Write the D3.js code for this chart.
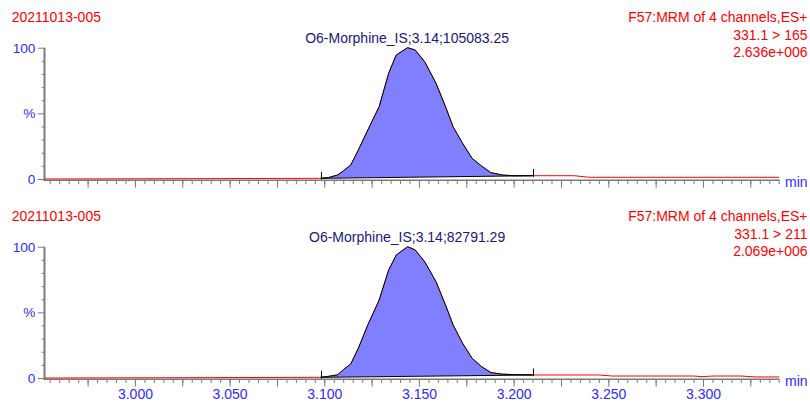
<!DOCTYPE html>
<html>
<head>
<meta charset="utf-8">
<script src="https://cdn.jsdelivr.net/npm/d3@7"></script>
<style>
  body { margin: 0; background: #fff; }
  text { font-family: "Liberation Sans", Arial, sans-serif; }
</style>
</head>
<body>
<svg id="chart" width="810" height="407"></svg>
<script>
// Retention-time window shown on the x axis (minutes)
const timeDomain = [2.9525, 3.3403];

// Integrated peak: sampled retention times (min) and relative intensity (%)
const peakTimes = [3.098, 3.102, 3.107, 3.110, 3.114, 3.118, 3.123, 3.129, 3.134, 3.138, 3.144,
                   3.148, 3.153, 3.159, 3.164, 3.168, 3.173, 3.178, 3.183, 3.188, 3.194, 3.200, 3.210];
const peak165 = [0.5, 1.0, 3.0, 6.1, 10.7, 22.1, 37.3, 55.1, 80.5, 94.4, 100,
                 98.2, 89.3, 72.9, 55.1, 39.8, 27.2, 15.8, 9.9, 4.8, 3.0, 2.5, 2.5];
const peak211 = [0.5, 1.2, 2.4, 6.2, 10.7, 22.7, 40.4, 59.4, 82.2, 93.6, 100,
                 97.5, 88.6, 73.3, 55.6, 40.4, 26.5, 15.1, 8.7, 4.1, 2.9, 2.6, 2.3];

// Trace before and after the integrated peak
const leadTimes = [2.9525, 3.0975];
const lead165 = [0, 0.5];
const lead211 = [0, 0.5];
const tailTimes165 = [3.232, 3.240, 3.3403];
const tail165 = [2.5, 1.3, 1.3];
const tailTimes211 = [3.245, 3.252, 3.295, 3.300, 3.305, 3.320, 3.328, 3.3403];
const tail211 = [2.3, 1.5, 1.5, 1.0, 1.5, 1.5, 0.8, 0.8];

// Header texts
const sampleName = "20211013-005";
const functionName = "F57:MRM of 4 channels,ES+";
const transitions = ["331.1 > 165", "331.1 > 211"];
const intensities = ["2.636e+006", "2.069e+006"];
const peakLabels = ["O6-Morphine_IS;3.14;105083.25", "O6-Morphine_IS;3.14;82791.29"];

// Axis ticks
const minorTimeTicks = d3.range(591, 669).map(i => i / 200);   // every 0.005 min
const majorTimeTicks = d3.range(119, 134).map(i => i / 40);    // every 0.025 min
const yTickValues = d3.range(0, 101, 10);
const yLabels = { 0: "0", 50: "%", 100: "100" };

const RED = "#ff0000";
const BLUE = "#2b2bff";
const NAVY = "#17177f";
const GREY = "#7a7a7a";
const FILL = "#8080ff";

const svg = d3.select("#chart");
const x = d3.scaleLinear().domain(timeDomain).range([45, 779.3]);

const panels = [
  { dy: 0, transition: transitions[0], intensity: intensities[0], label: peakLabels[0],
    times: leadTimes.concat(peakTimes, tailTimes165), values: lead165.concat(peak165, tail165),
    peak: peak165, timeLabels: false },
  { dy: 199, transition: transitions[1], intensity: intensities[1], label: peakLabels[1],
    times: leadTimes.concat(peakTimes, tailTimes211), values: lead211.concat(peak211, tail211),
    peak: peak211, timeLabels: true }
];

panels.forEach(p => {
  const g = svg.append("g").attr("transform", `translate(0,${p.dy})`);
  const y = d3.scaleLinear().domain([0, 100]).range([179, 47.7]);

  // Header
  g.append("text").attr("x", 11.7).attr("y", 21.7).attr("fill", RED)
    .attr("font-size", 14).text(sampleName);
  [functionName, p.transition, p.intensity].forEach((t, i) => {
    g.append("text").attr("x", 807.5).attr("y", 22.3 + i * 17.5)
      .attr("text-anchor", "end").attr("fill", RED).attr("font-size", 14).text(t);
  });

  // X axis: minor and major ticks
  const xMinor = d3.axisBottom(x).tickValues(minorTimeTicks).tickSizeInner(4)
    .tickSizeOuter(0).tickFormat("");
  const xMajor = d3.axisBottom(x).tickValues(majorTimeTicks).tickSizeInner(7.7)
    .tickSizeOuter(0).tickPadding(2.4)
    .tickFormat(d => (p.timeLabels && Math.round(d * 1000) % 50 === 0) ? d3.format(".3f")(d) : "");
  [xMinor, xMajor].forEach(ax => {
    const a = g.append("g").attr("transform", "translate(0,180)").call(ax);
    a.select(".domain").remove();
    a.selectAll("line").attr("stroke", GREY);
    a.selectAll("text").attr("fill", BLUE).attr("font-size", 14)
      .attr("font-family", "\"Liberation Sans\", Arial, sans-serif");
  });

  // Y axis
  const yAxis = d3.axisLeft(y).tickValues(yTickValues)
    .tickSizeOuter(0).tickPadding(2.4).tickFormat(d => yLabels[d] || "");
  const ya = g.append("g").attr("transform", "translate(44,0)").call(yAxis);
  ya.select(".domain").remove();
  ya.selectAll(".tick line").attr("stroke", GREY)
    .attr("x2", d => (d % 50 === 0) ? -6.3 : -2.3);
  ya.selectAll(".tick text").attr("fill", BLUE).attr("font-size", 13.6)
    .attr("x", -8.7).attr("font-family", "\"Liberation Sans\", Arial, sans-serif");

  // Axis lines
  g.append("line").attr("x1", x(timeDomain[0]) - 1.5).attr("x2", x(timeDomain[1]))
    .attr("y1", 180.25).attr("y2", 180.25).attr("stroke", GREY).attr("stroke-width", 1.5);
  g.append("line").attr("x1", 44.5).attr("x2", 44.5).attr("y1", y(100)).attr("y2", 181)
    .attr("stroke", GREY).attr("stroke-width", 2);

  g.append("text").attr("x", 785).attr("y", 186.7).attr("fill", BLUE)
    .attr("font-size", 14).text("min");

  // Full trace
  const pts = p.times.map((t, i) => [t, p.values[i]]);
  g.append("path").datum(pts)
    .attr("d", d3.line().x(d => x(d[0])).y(d => y(d[1])))
    .attr("fill", "none").attr("stroke", RED).attr("stroke-width", 1);

  // Integrated peak between the curve and its drawn baseline
  const t0 = peakTimes[0], t1 = peakTimes[peakTimes.length - 1];
  const v0 = p.peak[0], v1 = p.peak[p.peak.length - 1];
  const base = t => v0 + (t - t0) / (t1 - t0) * (v1 - v0);
  const peakPts = peakTimes.map((t, i) => [t, p.peak[i]]);
  g.append("path").datum(peakPts)
    .attr("d", d3.area().x(d => x(d[0])).y0(d => y(base(d[0]))).y1(d => y(d[1])))
    .attr("fill", FILL);
  g.append("path").datum(peakPts)
    .attr("d", d3.line().x(d => x(d[0])).y(d => y(d[1])))
    .attr("fill", "none").attr("stroke", "#000").attr("stroke-width", 1);
  g.append("line").attr("x1", x(t0)).attr("x2", x(t1)).attr("y1", y(v0)).attr("y2", y(v1))
    .attr("stroke", "#000").attr("stroke-width", 1);
  [[t0, v0], [t1, v1]].forEach(([t, v]) => {
    g.append("line").attr("x1", Math.round(x(t)) + 0.5).attr("x2", Math.round(x(t)) + 0.5)
      .attr("y1", y(v) - 6.5).attr("y2", y(v) + 1.2)
      .attr("stroke", "#000").attr("stroke-width", 1);
  });

  // Peak annotation centred over the apex
  const apex = peakTimes[p.peak.indexOf(d3.max(p.peak))];
  g.append("text").attr("x", x(apex) - 0.5).attr("y", 43.3).attr("text-anchor", "middle")
    .attr("fill", NAVY).attr("font-size", 14).text(p.label);
});
</script>
</body>
</html>
